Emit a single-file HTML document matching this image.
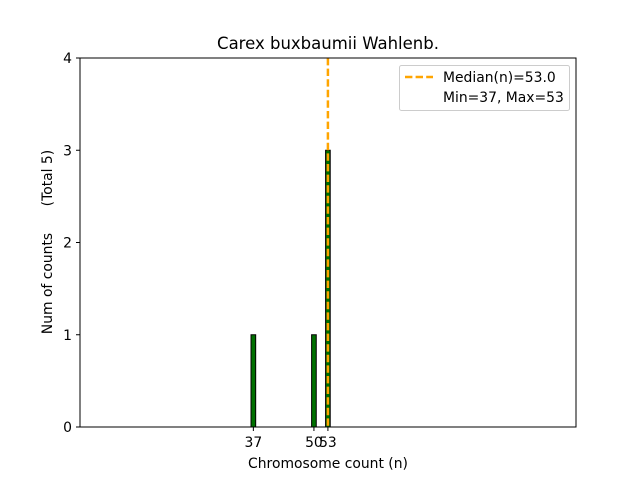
<!DOCTYPE html>
<html><head><meta charset="utf-8"><style>
body{margin:0;background:#fff;font-family:"Liberation Sans","DejaVu Sans",sans-serif}
svg text{font-family:"DejaVu Sans","Liberation Sans",sans-serif;white-space:pre}
</style></head><body>
<svg id="chart" width="640" height="480" xmlns="http://www.w3.org/2000/svg">
<rect width="640" height="480" fill="#fff"/>
<text x="328" y="49" font-size="16.5" text-anchor="middle">Carex buxbaumii Wahlenb.</text>
<line x1="80" y1="427" x2="343" y2="427" stroke="#999" stroke-width="1"/>
<g id="bars"></g>
<line id="median" y1="58" y2="427" stroke="#ffa500" stroke-width="2.5" stroke-dasharray="7.4,3.2"/>
<rect x="80" y="58" width="496" height="369" fill="none" stroke="#000" stroke-width="1"/>
<g id="yticks"></g><g id="xticks"></g>
<text transform="translate(52,242) rotate(-90)" font-size="13.9" text-anchor="middle" xml:space="preserve">Num of counts      (Total 5)</text>
<text x="328" y="468" font-size="13.9" text-anchor="middle">Chromosome count (n)</text>
<g>
<rect x="399.5" y="65.5" width="170" height="45" rx="2" fill="#fff" fill-opacity="0.8" stroke="#ccc"/>
<line x1="405" y1="77" x2="433" y2="77" stroke="#ffa500" stroke-width="2.5" stroke-dasharray="7.4,3.2"/>
<text x="443" y="82" font-size="13.9">Median(n)=53.0</text>
<text x="443" y="102" font-size="13.9">Min=37, Max=53</text>
</g>
</svg>
<script>
const categories=[37,50,53];
const counts=[1,1,3];
const yTicks=[0,1,2,3,4];
const xTickLabels=[37,50,53];
const medianValue=53;
const NS="http://www.w3.org/2000/svg";
function xs(v){return 80+(v+0.2)*4.66;}
function ys(v){return 427-v*92.25;}
const bars=document.getElementById('bars');
categories.forEach((c,i)=>{
 const r=document.createElementNS(NS,'rect');
 
 
 r.setAttribute('x',xs(c-0.5));r.setAttribute('width',4.66);
 r.setAttribute('y',ys(counts[i]));r.setAttribute('height',ys(0)-ys(counts[i]));
 r.setAttribute('fill','#007000');r.setAttribute('stroke','#000');r.setAttribute('stroke-width','1');
 bars.appendChild(r);
});
const m=document.getElementById('median');
m.setAttribute('x1',xs(medianValue));m.setAttribute('x2',xs(medianValue));
const yt=document.getElementById('yticks');
yTicks.forEach(t=>{
 const l=document.createElementNS(NS,'line');
 
 
 l.setAttribute('x1',76);l.setAttribute('x2',80);l.setAttribute('y1',ys(t));l.setAttribute('y2',ys(t));l.setAttribute('stroke','#000');
 yt.appendChild(l);
 const tx=document.createElementNS(NS,'text');
 
 
 tx.setAttribute('x',72);tx.setAttribute('y',ys(t)+5);tx.setAttribute('font-size','13.9');tx.setAttribute('text-anchor','end');
 tx.textContent=t;yt.appendChild(tx);
});
const xt=document.getElementById('xticks');
xTickLabels.forEach(t=>{
 const l=document.createElementNS(NS,'line');
 
 
 l.setAttribute('x1',xs(t));l.setAttribute('x2',xs(t));l.setAttribute('y1',427);l.setAttribute('y2',431);l.setAttribute('stroke','#000');
 xt.appendChild(l);
 const tx=document.createElementNS(NS,'text');
 
 
 tx.setAttribute('x',xs(t));tx.setAttribute('y',447);tx.setAttribute('font-size','13.9');tx.setAttribute('text-anchor','middle');
 tx.textContent=t;xt.appendChild(tx);
});
</script>
</body></html>
